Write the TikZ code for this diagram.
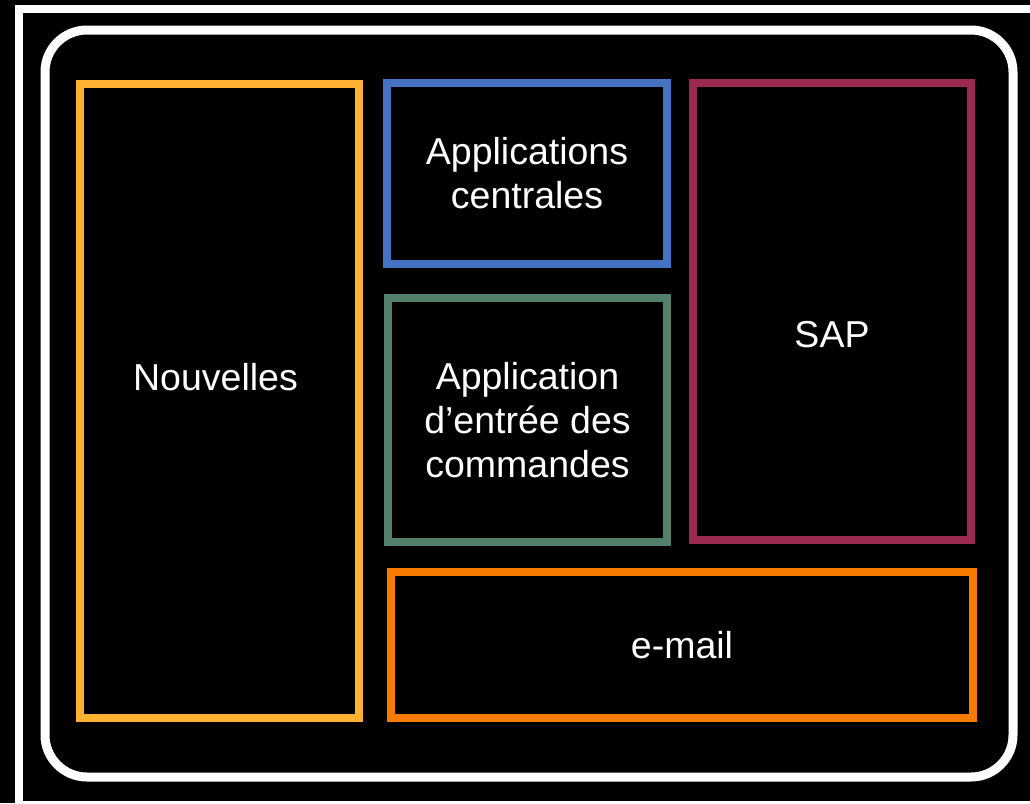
\documentclass[tikz,border=0pt]{standalone}
\usepackage{fontspec}
\setmainfont{Liberation Sans}
\usetikzlibrary{positioning}

\definecolor{jaune}{HTML}{FFB131}
\definecolor{bleu}{HTML}{4672C4}
\definecolor{vert}{HTML}{53806A}
\definecolor{bordeaux}{HTML}{9A2A4F}
\definecolor{orange}{HTML}{F77B00}

\begin{document}
\begin{tikzpicture}[x=1pt, y=-1pt, zone/.style={draw, line width=8.5pt, inner sep=0pt, align=center, text=white, font=\fontsize{37.5}{44}\selectfont}, zonetext/.style={text=white, font=\fontsize{37.5}{44}\selectfont}]
\useasboundingbox (0,0) rectangle (1030,803);
\fill[black] (0,0) rectangle (1030,803);
\clip (0,0) rectangle (1030,803);
% cadres blancs
\draw[white, line width=8pt] (19,9) rectangle (1036,805);
\node[draw=white, line width=9pt, rounded corners=42pt, minimum width=968pt, minimum height=747pt] (cadre) at (529,403.5) {};
% zones
\node[zone, draw=jaune, minimum width=279pt, minimum height=634pt, label={[zonetext, xshift=-4pt, yshift=23.5pt]center:Nouvelles}] (nouvelles) at (219.5,401) {};
\node[zone, draw=bleu, minimum width=280pt, minimum height=181pt] (centrales) at (527,173.5) {Applications\\centrales};
\node[zone, draw=vert, minimum width=279pt, minimum height=244pt] (commandes) at (527.5,420) {Application\\d’entrée des\\commandes};
\node[zone, draw=bordeaux, minimum width=278pt, minimum height=457pt, label={[zonetext, yshift=-23pt]center:SAP}] (sap) at (832,311.5) {};
\node[zone, draw=orange, minimum width=582pt, minimum height=146pt] (email) at (682,645) {e-mail};
\end{tikzpicture}
\end{document}
